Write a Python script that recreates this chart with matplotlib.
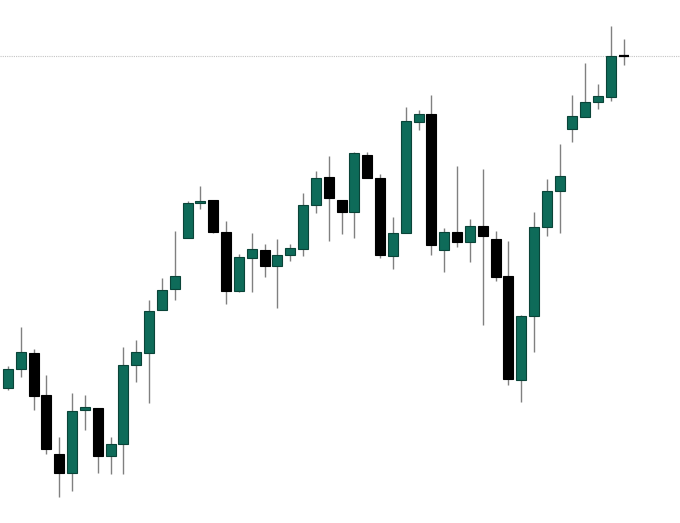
import numpy as np
import matplotlib.pyplot as plt

# OHLC (arbitrary price units)
opens = [135, 154, 170, 128, 69, 50, 113, 115, 67, 79,
         158, 170, 213, 234, 285, 320, 323, 291, 232, 265,
         273, 257, 268, 274, 318, 346, 323, 311, 368, 345,
         267, 290, 401, 409, 273, 291, 281, 297, 284, 247,
         143, 207, 296, 332, 394, 406, 421, 426, 467]
highs = [157, 196, 174, 148, 86, 130, 128, 115, 86, 176,
         183, 223, 245, 292, 322, 337, 323, 302, 269, 290,
         279, 284, 279, 330, 352, 367, 323, 371, 371, 349,
         306, 416, 413, 428, 295, 357, 304, 354, 292, 282,
         208, 311, 344, 379, 428, 460, 439, 497, 484]
lows = [133, 146, 113, 69, 26, 32, 93, 50, 49, 49,
        141, 120, 213, 223, 285, 314, 290, 219, 231, 231,
        246, 215, 262, 267, 310, 282, 289, 285, 345, 265,
        254, 290, 393, 268, 251, 276, 261, 198, 242, 138,
        121, 171, 287, 290, 381, 406, 414, 422, 458]
closes = [154, 171, 127, 74, 50, 112, 116, 67, 79, 158,
          171, 212, 233, 247, 320, 322, 291, 232, 266, 274,
          257, 268, 275, 318, 345, 325, 311, 370, 345, 268,
          290, 402, 409, 278, 291, 281, 297, 287, 246, 144,
          207, 296, 332, 347, 407, 421, 427, 467, 467]
last_price = 467

GREEN = '#0e6b59'
GREEN_EDGE = '#0a4438'
WICK = '#808080'

o = np.array(opens)
h = np.array(highs)
l = np.array(lows)
c = np.array(closes)
x = np.arange(len(o))
width = 0.78

fig = plt.figure(figsize=(6.8, 5.23), dpi=100)
ax = fig.add_axes([0, 0, 1, 1])

ax.axhline(last_price, color='#c4c4c4', linestyle=(0, (1, 1)), linewidth=0.8, zorder=0)

ax.vlines(x, l, h, color=WICK, linewidth=1.0, zorder=1)

up = c > o
down = c < o
flat = c == o
ax.bar(x[up], (c - o)[up], bottom=o[up], width=width,
       color=GREEN, edgecolor=GREEN_EDGE, linewidth=0.8, zorder=2)
ax.bar(x[down], (o - c)[down], bottom=c[down], width=width,
       color='black', edgecolor='black', linewidth=0.8, zorder=2)
ax.hlines(o[flat], x[flat] - width / 2, x[flat] + width / 2,
          color='black', linewidth=1.6, zorder=2)

ax.set_xlim(-0.623, 52.38)
ax.set_ylim(0, 523)
ax.axis('off')

fig.savefig('out.png', dpi=100, facecolor='white')
